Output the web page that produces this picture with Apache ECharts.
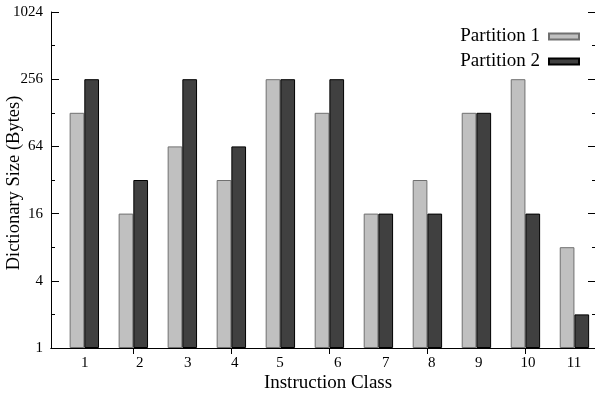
<!DOCTYPE html>
<html>
<head>
<meta charset="utf-8">
<script src="https://cdn.jsdelivr.net/npm/echarts@6/dist/echarts.min.js"></script>
<style>
html,body{margin:0;padding:0;background:#fff;}
#c{width:595px;height:396px;}
</style>
</head>
<body>
<div id="c"></div>
<script>
var classes = [1, 2, 3, 4, 5, 6, 7, 8, 9, 10, 11];
var partition1 = [128, 16, 64, 32, 256, 128, 16, 32, 128, 256, 8];
var partition2 = [256, 32, 256, 64, 256, 256, 16, 16, 128, 16, 2];
var xLabelPos = [1.01, 2.13, 3.11, 4.07, 4.99, 6.17, 7.15, 8.09, 9.05, 10.05, 10.99];
var topTicks = [2, 4, 6, 8, 10];
var yTicks = [1, 4, 16, 64, 256, 1024];
var yMinorTicks = [2, 8, 32, 128, 512];

var font = 'Liberation Serif';
var chart = echarts.init(document.getElementById('c'), null, {renderer: 'canvas'});

function pairs(vals) {
  return classes.map(function (c, i) { return [c, vals[i]]; });
}
function log4(v) { return Math.log(v) / Math.log(4); }

var xMin = 0.32, xMax = 11.44;
function yAxisBase(extra) {
  return Object.assign({
    type: 'log', logBase: 4, min: 1, max: 1024,
    splitLine: {show: false},
    axisLine: {show: true, lineStyle: {color: '#000', width: 1}},
    axisTick: {show: true, inside: true, length: 8, customValues: yTicks, lineStyle: {color: '#000'}},
    minorTick: {show: false}
  }, extra);
}
function yMinorAxis(pos) {
  // exponent space (log base 4) so minor ticks sit at 2, 8, 32, 128, 512
  return {
    type: 'value', min: log4(1), max: log4(1024), position: pos,
    splitLine: {show: false},
    axisLine: {show: false},
    axisTick: {show: true, inside: true, length: 4, customValues: yMinorTicks.map(log4), lineStyle: {color: '#000'}},
    axisLabel: {show: false}
  };
}

chart.setOption({
  animation: false,
  backgroundColor: '#fff',
  grid: {left: 51, top: 12, width: 545, height: 336, containLabel: false, outerBoundsMode: 'none'},
  legend: {
    orient: 'vertical', right: 15, top: 27, align: 'right', padding: 0,
    icon: 'rect', itemWidth: 30, itemHeight: 6, itemGap: 6,
    textStyle: {fontFamily: font, fontSize: 19, color: '#000', padding: [0, 4, 0, 0]},
    data: ['Partition 1', 'Partition 2']
  },
  xAxis: [{
    type: 'value', min: xMin, max: xMax, position: 'bottom',
    name: 'Instruction Class', nameLocation: 'middle', nameGap: 26, nameMoveOverlap: false,
    nameTextStyle: {fontFamily: font, fontSize: 19, color: '#000', padding: [0, 0, 0, 9]},
    splitLine: {show: false},
    axisLine: {show: true, lineStyle: {color: '#000'}},
    axisTick: {show: false},
    axisLabel: {
      customValues: xLabelPos, margin: 8,
      fontFamily: font, fontSize: 15, color: '#000',
      formatter: function (v) { return String(Math.round(v)); }
    }
  }, {
    type: 'value', min: xMin, max: xMax, position: 'top',
    splitLine: {show: false},
    axisLine: {show: true, lineStyle: {color: '#000'}},
    axisTick: {show: true, inside: true, length: 6, customValues: topTicks, lineStyle: {color: '#000'}},
    axisLabel: {show: false}
  }],
  yAxis: [yAxisBase({
    position: 'left',
    name: 'Dictionary Size (Bytes)', nameLocation: 'middle', nameGap: 27, nameMoveOverlap: false,
    nameTextStyle: {fontFamily: font, fontSize: 18.5, color: '#000', padding: [0, 6, 0, 0]},
    axisLabel: {
      customValues: yTicks, margin: 8, fontFamily: font, fontSize: 15, color: '#000',
      formatter: function (v) { return String(v); }
    }
  }), yAxisBase({
    position: 'right',
    axisLabel: {show: false}
  }), yMinorAxis('left'), yMinorAxis('right')],
  series: [{
    name: 'Partition 1', type: 'bar', xAxisIndex: 0, yAxisIndex: 0,
    data: pairs(partition1), barWidth: 14.7, barGap: '0%',
    itemStyle: {color: '#c0c0c0', borderColor: '#707070', borderWidth: 1}
  }, {
    name: 'Partition 2', type: 'bar', xAxisIndex: 0, yAxisIndex: 0,
    data: pairs(partition2), barWidth: 14.7, barGap: '0%',
    itemStyle: {color: '#404040', borderColor: '#000', borderWidth: 1}
  }]
});
</script>
</body>
</html>
